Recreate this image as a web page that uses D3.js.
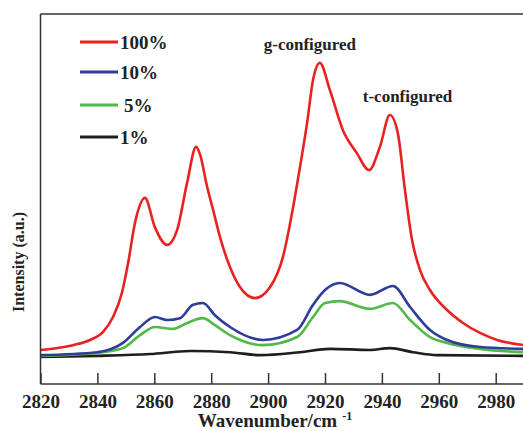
<!DOCTYPE html>
<html>
<head>
<meta charset="utf-8">
<script src="https://cdn.jsdelivr.net/npm/d3@7"></script>
<style>
  body { margin: 0; background: #fff; }
  svg text { font-family: 'Liberation Serif', 'Times New Roman', Times, serif; font-weight: 700; fill: #222; }
</style>
</head>
<body>
<script>
// wavenumber (cm-1) vs intensity (a.u.)
var red100 = [[2820,9.2],[2831.4,10.5],[2837.4,11.9],[2842,14.1],[2845.5,18.1],[2848.6,24.6],[2850.8,32.7],
  [2853.2,43.5],[2856.7,50.3],[2860.2,42.4],[2864.5,37.6],[2868,41.6],[2871.5,54.3],[2874.7,64.1],[2876.1,62],
  [2878.5,53.5],[2880.6,47.3],[2883.1,39.7],[2886.6,31.6],[2890.1,26.2],[2895.4,23.2],[2900.7,26.2],[2905.2,34.3],
  [2908.8,47.8],[2911.2,58.6],[2913.7,70.5],[2915.8,82.2],[2918.2,86.8],[2921.7,79.5],[2926.3,68.6],[2931.2,62.4],
  [2935.5,57.8],[2939.3,64.1],[2942.8,72.7],[2945.6,67.8],[2948.1,52.4],[2950.6,38.9],[2953.4,30.8],[2956.9,25.4],
  [2962.9,20],[2968.5,16.5],[2974.5,13.8],[2980.5,11.9],[2990,10.5]];
var blue10 = [[2820,7.8],[2839.9,8.6],[2849,11.1],[2855,15.4],[2860.2,18.1],[2864.5,17.3],[2869,17.8],[2873.6,21.4],
  [2877.1,21.9],[2881.3,18.6],[2886.6,15.4],[2898.2,11.9],[2910.2,14.6],[2915.8,21.4],[2920,25.4],[2925.2,27.3],
  [2935.8,24.1],[2943.9,26.5],[2949.9,20.8],[2956.9,14.6],[2962.9,11.9],[2974.5,10],[2990,9.5]];
var green5 = [[2820,7.6],[2839.9,8.4],[2849,9.7],[2855,13.2],[2860.2,15.4],[2866.6,14.9],[2871.5,16.5],[2877.1,17.8],
  [2881.3,15.9],[2886.6,13.2],[2898.2,10.5],[2910.2,12.7],[2915.8,18.1],[2920,21.9],[2925.2,22.4],[2935.8,20.3],
  [2943.9,21.9],[2949.9,17.3],[2956.9,12.7],[2962.9,11.1],[2974.5,9.5],[2990,8.6]];
var black1 = [[2820,7.3],[2840.2,7.6],[2858.5,8.1],[2872.5,8.9],[2886.6,8.6],[2897.2,7.8],[2911.2,8.6],[2921.7,9.5],
  [2935.8,9.2],[2942.8,9.7],[2950.9,8.6],[2959.3,7.8],[2990,7.6]];

var seriesNames = ['100%', '10%', '5%', '1%'];
var seriesColors = ['#e8221f', '#2e3d99', '#52b847', '#1e1e1e'];
var xTicks = [2820, 2840, 2860, 2880, 2900, 2920, 2940, 2960, 2980];
var peakLabels = [['g-configured', 2914.7, 90.3], ['t-configured', 2949, 76.2]];

var width = 523, height = 431;
var plotLeft = 40.5, plotTop = 14, plotBottom = 384;

var svg = d3.select('body').append('svg').attr('width', width).attr('height', height);

var x = d3.scaleLinear().domain([2820, 3000]).range([plotLeft, plotLeft + 2.845 * 180]);
var y = d3.scaleLinear().domain([0, 100]).range([plotBottom, plotTop]);

svg.append('clipPath').attr('id', 'plot')
  .append('rect').attr('x', plotLeft).attr('y', plotTop).attr('width', width - plotLeft).attr('height', plotBottom - plotTop);

var line = d3.line()
  .x(function (d) { return x(d[0]); })
  .y(function (d) { return y(d[1]); })
  .curve(d3.curveMonotoneX);

[black1, green5, blue10, red100].forEach(function (s, i) {
  svg.append('path')
    .datum(s)
    .attr('clip-path', 'url(#plot)')
    .attr('fill', 'none')
    .attr('stroke', seriesColors[3 - i])
    .attr('stroke-width', 2.6)
    .attr('d', line);
});

// frame: left and top, x axis with inward ticks
svg.append('line').attr('x1', plotLeft).attr('x2', width).attr('y1', plotTop).attr('y2', plotTop)
  .attr('stroke', '#333').attr('stroke-width', 1.5);
svg.append('line').attr('x1', plotLeft).attr('x2', plotLeft).attr('y1', plotTop).attr('y2', plotBottom)
  .attr('stroke', '#333').attr('stroke-width', 1.5);

var xAxis = svg.append('g').attr('transform', 'translate(0,' + plotBottom + ')')
  .call(d3.axisBottom(x).tickValues(xTicks).tickSizeInner(-11).tickSizeOuter(0).tickFormat(d3.format('d')));
xAxis.attr('font-family', null).attr('font-size', null);
xAxis.select('.domain').attr('stroke', '#333').attr('stroke-width', 1.5).attr('d', 'M' + plotLeft + ',0H' + width);
xAxis.selectAll('.tick line').attr('stroke', '#333').attr('stroke-width', 1.5);
xAxis.selectAll('.tick text').attr('y', 24).attr('dy', 0).style('font-size', '19px').attr('fill', '#222');

var xt = svg.append('text').attr('x', 275).attr('y', 427).attr('text-anchor', 'middle').style('font-size', '19px');
xt.append('tspan').text('Wavenumber/cm');
xt.append('tspan').attr('dy', -7).attr('dx', 5).style('font-size', '12px').text('-1');

svg.append('text')
  .attr('transform', 'translate(24,262) rotate(-90)')
  .attr('text-anchor', 'middle').style('font-size', '16px')
  .text('Intensity (a.u.)');

// legend
var legendY = [42, 72, 105, 137];
seriesNames.forEach(function (n, i) {
  svg.append('line').attr('x1', 80).attr('x2', 118).attr('y1', legendY[i]).attr('y2', legendY[i])
    .attr('stroke', seriesColors[i]).attr('stroke-width', 3);
  svg.append('text').attr('x', i == 2 ? 124 : 120).attr('y', legendY[i] + 7).style('font-size', '19px').text(n);
});

peakLabels.forEach(function (p) {
  svg.append('text').attr('x', x(p[1])).attr('y', y(p[2])).attr('text-anchor', 'middle').style('font-size', '17px').text(p[0]);
});
</script>
</body>
</html>
